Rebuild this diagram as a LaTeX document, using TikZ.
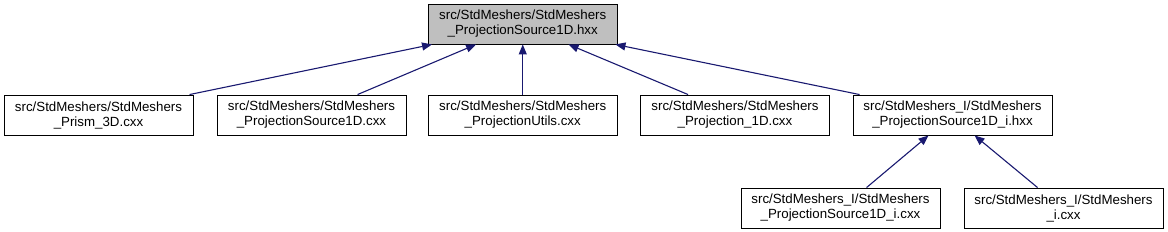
\documentclass[tikz,border=0pt]{standalone}
\usepackage{fontspec}
\setmainfont{Liberation Sans}
\usetikzlibrary{arrows.meta,calc}
\definecolor{edgeblue}{HTML}{191970}
\definecolor{rootfill}{HTML}{BFBFBF}
\begin{document}
\begin{tikzpicture}[x=1pt,y=-1pt,
  file/.style={draw=black, line width=0.9pt, fill=white, minimum height=40pt, inner sep=0pt, align=center, font=\fontsize{13.3}{15}\selectfont},
  root/.style={file, fill=rootfill},
  edge/.style={draw=edgeblue, line width=1.1pt, {Triangle[length=10pt,width=8pt]}-}]
\useasboundingbox (0,0) rectangle (1168,231);
\node[root, minimum width=188.5pt] (top) at (522.75,24) {src/StdMeshers/StdMeshers\\\_ProjectionSource1D.hxx};
\node[file, minimum width=189pt] (b1) at (98.5,115) {src/StdMeshers/StdMeshers\\\_Prism\_3D.cxx};
\node[file, minimum width=189pt] (b2) at (311.5,115) {src/StdMeshers/StdMeshers\\\_ProjectionSource1D.cxx};
\node[file, minimum width=188.5pt] (b3) at (522.75,115) {src/StdMeshers/StdMeshers\\\_ProjectionUtils.cxx};
\node[file, minimum width=189pt] (b4) at (735,115) {src/StdMeshers/StdMeshers\\\_Projection\_1D.cxx};
\node[file, minimum width=199pt] (b5) at (952.5,115) {src/StdMeshers\_I/StdMeshers\\\_ProjectionSource1D\_i.hxx};
\node[file, minimum width=199pt] (b6) at (840.5,208) {src/StdMeshers\_I/StdMeshers\\\_ProjectionSource1D\_i.cxx};
\node[file, minimum width=199pt] (b7) at (1063.5,208) {src/StdMeshers\_I/StdMeshers\\\_i.cxx};
\draw[edge] ($(top.south west)+(4,0)$) -- ($(b1.north west)+(186,0)$);
\draw[edge] ($(top.south west)+(48,0)$) -- ($(b2.north west)+(141,0)$);
\draw[edge] (top.south) -- (b3.north);
\draw[edge] ($(top.south west)+(140.5,0)$) -- ($(b4.north west)+(48,0)$);
\draw[edge] ($(top.south east)+(-2,0)$) -- ($(b5.north west)+(7,0)$);
\draw[edge] ($(b5.south west)+(76,0)$) -- ($(b6.north west)+(126,0)$);
\draw[edge] ($(b5.south west)+(122,0)$) -- ($(b7.north west)+(74,0)$);
\end{tikzpicture}
\end{document}
